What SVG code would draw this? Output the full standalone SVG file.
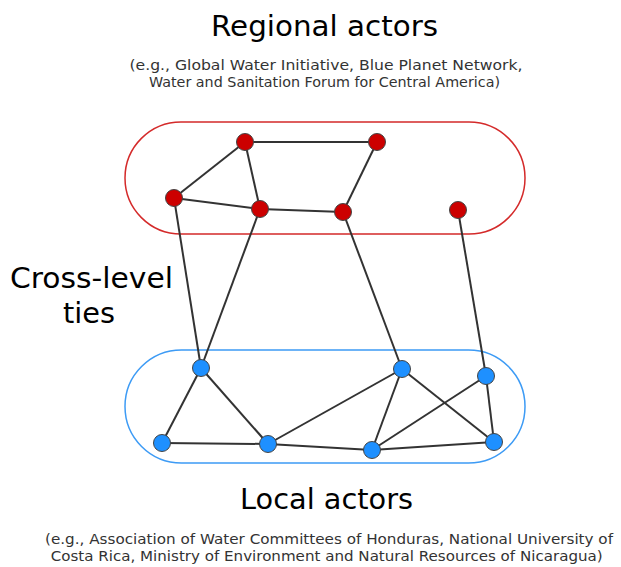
<svg xmlns="http://www.w3.org/2000/svg" width="621" height="567" viewBox="0 0 621 567">
<style>
text{font-family:"DejaVu Sans","Liberation Sans",sans-serif;text-anchor:middle}
.big{font-size:28px;fill:#000}
.sub{font-size:14px;fill:#333}
.edge{stroke:#333;stroke-width:2;fill:none}
.r{fill:#cc0000;stroke:#444;stroke-width:1}
.b{fill:#1e90ff;stroke:#444;stroke-width:1}
</style>
<rect width="621" height="567" fill="#fff"/>
<g id="regional-group"><rect x="125" y="122" width="400" height="112" rx="56" ry="56" fill="none" stroke="#d42a2a" stroke-width="1.5"/></g>
<g id="local-group"><rect x="125" y="350" width="400" height="113" rx="56.5" ry="56.5" fill="none" stroke="#3d9bf5" stroke-width="1.5"/></g>
<g id="labels">
<text class="big" x="324.5" y="36" textLength="227" lengthAdjust="spacingAndGlyphs">Regional actors</text>
<text class="sub" x="326" y="69.5" textLength="393" lengthAdjust="spacingAndGlyphs">(e.g., Global Water Initiative, Blue Planet Network,</text>
<text class="sub" x="324.5" y="86.5" textLength="351" lengthAdjust="spacingAndGlyphs">Water and Sanitation Forum for Central America)</text>
<text class="big" x="91.5" y="288" textLength="163" lengthAdjust="spacingAndGlyphs">Cross-level</text>
<text class="big" x="89" y="323" textLength="52" lengthAdjust="spacingAndGlyphs">ties</text>
<text class="big" x="326.5" y="509" textLength="173" lengthAdjust="spacingAndGlyphs">Local actors</text>
<text class="sub" x="329" y="543.5" textLength="568" lengthAdjust="spacingAndGlyphs">(e.g., Association of Water Committees of Honduras, National University of</text>
<text class="sub" x="326.7" y="561" textLength="552" lengthAdjust="spacingAndGlyphs">Costa Rica, Ministry of Environment and Natural Resources of Nicaragua)</text>
</g>
<g id="connectors">
<line class="edge" x1="245" y1="142" x2="377" y2="142"/>
<line class="edge" x1="245" y1="142" x2="174" y2="198"/>
<line class="edge" x1="245" y1="142" x2="260" y2="209"/>
<line class="edge" x1="174" y1="198" x2="260" y2="209"/>
<line class="edge" x1="260" y1="209" x2="343" y2="212"/>
<line class="edge" x1="377" y1="142" x2="343" y2="212"/>
<line class="edge" x1="174" y1="198" x2="201" y2="368"/>
<line class="edge" x1="260" y1="209" x2="201" y2="368"/>
<line class="edge" x1="343" y1="212" x2="402" y2="369"/>
<line class="edge" x1="458" y1="210" x2="486" y2="376"/>
<line class="edge" x1="201" y1="368" x2="162" y2="443"/>
<line class="edge" x1="201" y1="368" x2="268" y2="444"/>
<line class="edge" x1="162" y1="443" x2="268" y2="444"/>
<line class="edge" x1="268" y1="444" x2="402" y2="369"/>
<line class="edge" x1="268" y1="444" x2="372" y2="450"/>
<line class="edge" x1="402" y1="369" x2="372" y2="450"/>
<line class="edge" x1="402" y1="369" x2="494" y2="442"/>
<line class="edge" x1="486" y1="376" x2="372" y2="450"/>
<line class="edge" x1="486" y1="376" x2="494" y2="442"/>
<line class="edge" x1="372" y1="450" x2="494" y2="442"/>
</g>
<g id="r1"><circle class="r" cx="245" cy="142" r="8.5"/></g>
<g id="r2"><circle class="r" cx="377" cy="142" r="8.5"/></g>
<g id="r3"><circle class="r" cx="174" cy="198" r="8.5"/></g>
<g id="r4"><circle class="r" cx="260" cy="209" r="8.5"/></g>
<g id="r5"><circle class="r" cx="343" cy="212" r="8.5"/></g>
<g id="r6"><circle class="r" cx="458" cy="210" r="8.5"/></g>
<g id="l1"><circle class="b" cx="201" cy="368" r="8.5"/></g>
<g id="l2"><circle class="b" cx="402" cy="369" r="8.5"/></g>
<g id="l3"><circle class="b" cx="486" cy="376" r="8.5"/></g>
<g id="l4"><circle class="b" cx="162" cy="443" r="8.5"/></g>
<g id="l5"><circle class="b" cx="268" cy="444" r="8.5"/></g>
<g id="l6"><circle class="b" cx="372" cy="450" r="8.5"/></g>
<g id="l7"><circle class="b" cx="494" cy="442" r="8.5"/></g>
</svg>
